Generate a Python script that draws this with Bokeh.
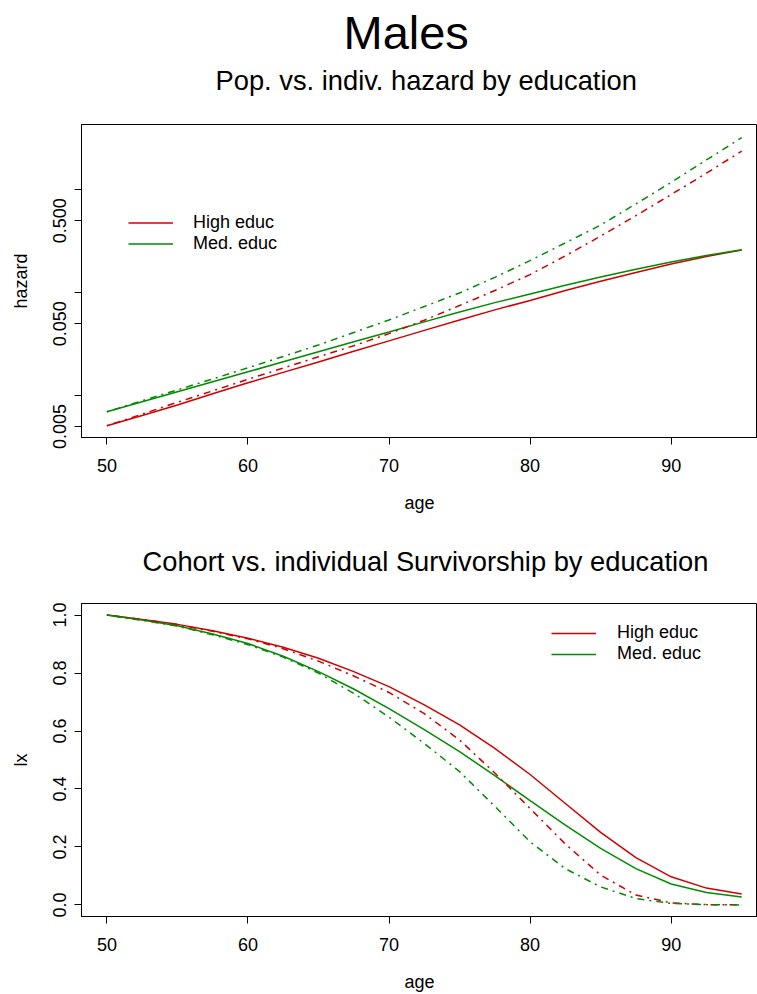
from bokeh.plotting import figure
from bokeh.layouts import column
from bokeh.models import Title, Legend, LegendItem, FixedTicker
from bokeh.embed import file_html
from bokeh.resources import INLINE

# ---------------- data ----------------
ages = [50, 52.5, 55, 57.5, 60, 62.5, 65, 67.5, 70, 72.5, 75, 77.5, 80, 82.5, 85, 87.5, 90, 92.5, 95]

# hazards (top panel): population (solid) vs individual (dot-dash)
haz_high_pop = [0.00508, 0.0064, 0.0081, 0.0104, 0.0133, 0.0168, 0.0212, 0.0269, 0.034, 0.043,
                0.0543, 0.068, 0.084, 0.105, 0.129, 0.157, 0.190, 0.225, 0.260]
haz_med_pop = [0.00695, 0.0087, 0.0109, 0.0136, 0.017, 0.0213, 0.0266, 0.0333, 0.0415, 0.052,
               0.065, 0.080, 0.097, 0.118, 0.142, 0.169, 0.199, 0.230, 0.262]
haz_high_ind = [0.00508, 0.0066, 0.0086, 0.0111, 0.0144, 0.0185, 0.0238, 0.0305, 0.040, 0.054,
                0.075, 0.105, 0.150, 0.228, 0.355, 0.56, 0.90, 1.45, 2.38]
haz_med_ind = [0.00695, 0.0089, 0.01135, 0.0145, 0.0186, 0.024, 0.031, 0.041, 0.0543, 0.0733,
               0.0993, 0.141, 0.205, 0.305, 0.454, 0.73, 1.18, 1.95, 3.22]

# survivorship (bottom panel): cohort (solid) vs individual (dot-dash)
lx_high_coh = [1.0, 0.985, 0.968, 0.946, 0.920, 0.889, 0.851, 0.805, 0.753, 0.690,
               0.621, 0.540, 0.450, 0.350, 0.250, 0.163, 0.097, 0.058, 0.038]
lx_med_coh = [1.0, 0.983, 0.963, 0.935, 0.902, 0.858, 0.805, 0.745, 0.677, 0.605,
              0.529, 0.446, 0.360, 0.275, 0.195, 0.125, 0.072, 0.043, 0.027]
lx_high_ind = [1.0, 0.985, 0.967, 0.944, 0.918, 0.884, 0.841, 0.790, 0.733, 0.660,
               0.569, 0.455, 0.333, 0.210, 0.103, 0.034, 0.007, 0.001, 0.0]
lx_med_ind = [1.0, 0.982, 0.962, 0.932, 0.898, 0.855, 0.800, 0.730, 0.648, 0.557,
              0.460, 0.340, 0.218, 0.125, 0.062, 0.022, 0.005, 0.001, 0.0]

x_ticks = [50, 60, 70, 80, 90]
haz_ticks = [0.005, 0.01, 0.05, 0.1, 0.5, 1.0]
haz_tick_labels = ["0.005", "", "0.050", "", "0.500", ""]
lx_ticks = [0.0, 0.2, 0.4, 0.6, 0.8, 1.0]
lx_tick_labels = ["0.0", "0.2", "0.4", "0.6", "0.8", "1.0"]
legend_labels = ["High educ", "Med. educ"]
main_title = "Males"
top_title = "Pop. vs. indiv. hazard by education"
bottom_title = "Cohort vs. individual Survivorship by education"

RED = "#D00000"
GREEN = "#008B00"
FONT = "Liberation Sans"
DOTDASH = "2 5 7 5"


def style(p, yticks, ylabels, ylabel):
    p.grid.visible = False
    p.outline_line_color = "black"
    p.outline_line_width = 1
    p.background_fill_color = "white"
    p.border_fill_color = "white"
    for ax in (p.xaxis[0], p.yaxis[0]):
        ax.axis_line_color = "black"
        ax.major_tick_line_color = "black"
        ax.major_tick_out = 7
        ax.major_tick_in = 0
        ax.minor_tick_line_color = None
        ax.major_label_text_font = FONT
        ax.major_label_text_font_size = "18px"
        ax.major_label_text_color = "black"
        ax.axis_label_text_font = FONT
        ax.axis_label_text_font_size = "18px"
        ax.axis_label_text_font_style = "normal"
        ax.axis_label_text_color = "black"
    p.xaxis[0].ticker = FixedTicker(ticks=x_ticks)
    p.xaxis[0].axis_label = "age"
    p.xaxis[0].major_label_standoff = 14
    p.xaxis[0].axis_label_standoff = 18
    p.yaxis[0].ticker = FixedTicker(ticks=yticks)
    p.yaxis[0].major_label_overrides = {t: l for t, l in zip(yticks, ylabels)}
    p.yaxis[0].major_label_orientation = "vertical"
    p.yaxis[0].axis_label = ylabel
    p.yaxis[0].major_label_standoff = 8
    p.yaxis[0].axis_label_standoff = 20


def add_title(p, text, size, offset, standoff):
    p.add_layout(Title(text=text, align="left", offset=offset, standoff=standoff,
                       text_font=FONT, text_font_size=size, text_font_style="normal",
                       text_color="black"), "above")


def add_spacer(p, standoff):
    # empty title used only as vertical spacing between a title and the frame
    p.add_layout(Title(text=" ", text_font_size="2px", standoff=standoff), "above")


def make_legend(renderers, loc, row_h, standoff):
    return Legend(items=[LegendItem(label=legend_labels[0], renderers=[renderers[0]]),
                         LegendItem(label=legend_labels[1], renderers=[renderers[1]])],
                  location=loc, orientation="vertical",
                  border_line_color=None, background_fill_alpha=0,
                  label_text_font=FONT, label_text_font_size="18px", label_text_color="black",
                  glyph_width=45, glyph_height=row_h, label_height=row_h,
                  label_standoff=standoff, spacing=0, padding=0, margin=0)


# ---------------- top panel ----------------
p1 = figure(width=757, height=530, y_axis_type="log",
            x_range=(48.2, 96.12), y_range=(0.003908, 4.315),
            min_border_left=81, min_border_right=0, min_border_top=123, min_border_bottom=93,
            output_backend="svg", toolbar_location=None, title=None)
style(p1, haz_ticks, haz_tick_labels, "hazard")

r_hp = p1.line(ages, haz_high_pop, line_color=RED, line_width=1.5)
r_mp = p1.line(ages, haz_med_pop, line_color=GREEN, line_width=1.5)
p1.line(ages, haz_high_ind, line_color=RED, line_width=1.5, line_dash=DOTDASH)
p1.line(ages, haz_med_ind, line_color=GREEN, line_width=1.5, line_dash=DOTDASH)

add_spacer(p1, 24)
add_title(p1, top_title, "27.3px", 134, 2)
add_title(p1, main_title, "47px", 262, 6)

p1.add_layout(make_legend([r_hp, r_mp], (47, 183), 21, 20), "center")

# ---------------- bottom panel ----------------
p2 = figure(width=757, height=464,
            x_range=(48.2, 96.12), y_range=(-0.04, 1.04),
            min_border_left=81, min_border_right=0, min_border_top=73, min_border_bottom=77,
            output_backend="svg", toolbar_location=None, title=None)
style(p2, lx_ticks, lx_tick_labels, "lx")

r_hc = p2.line(ages, lx_high_coh, line_color=RED, line_width=1.5)
r_mc = p2.line(ages, lx_med_coh, line_color=GREEN, line_width=1.5)
p2.line(ages, lx_high_ind, line_color=RED, line_width=1.5, line_dash=DOTDASH)
p2.line(ages, lx_med_ind, line_color=GREEN, line_width=1.5, line_dash=DOTDASH)

add_spacer(p2, 22)
add_title(p2, bottom_title, "27.3px", 61, 2)

p2.add_layout(make_legend([r_hc, r_mc], (470, 252), 20, 21), "center")

layout = column(p1, p2, spacing=0)
open("out.html", "w").write(file_html(layout, INLINE))
